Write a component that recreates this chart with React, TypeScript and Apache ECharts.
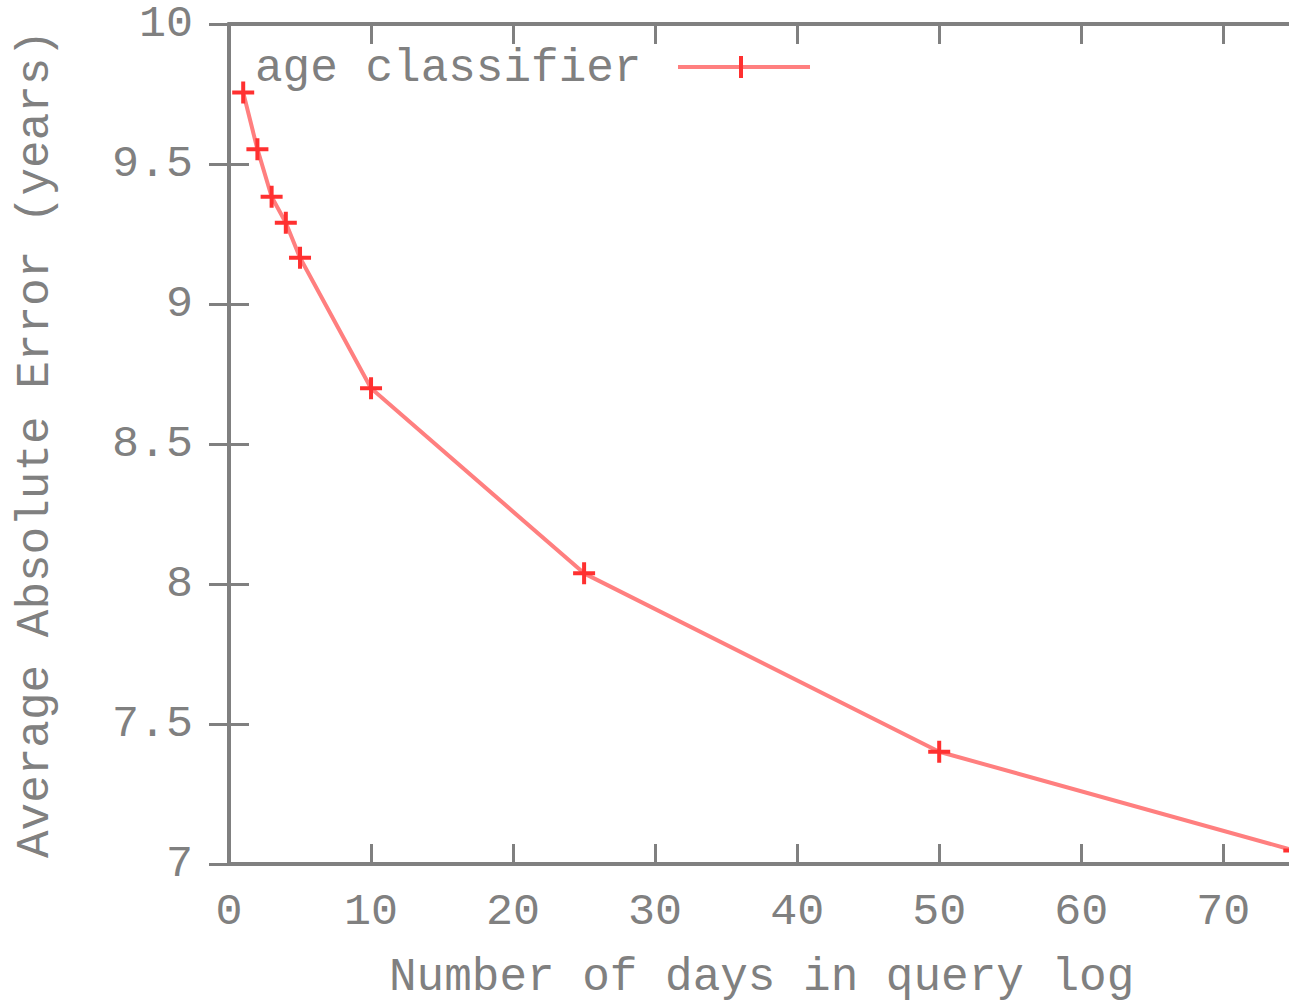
import React, { useEffect, useRef } from "react";
import * as echarts from "echarts";

const days: number[] = [1, 2, 3, 4, 5, 10, 25, 50, 75];
const errors: number[] = [9.755, 9.553, 9.383, 9.29, 9.165, 8.699, 8.038, 7.401, 7.048];
const seriesName = "age classifier";
const xTitle = "Number of days in query log";
const yTitle = "Average Absolute Error (years)";

const FONT = "'Liberation Mono', 'DejaVu Sans Mono', monospace";
const GRAY = "#808080";
const LINE = "#ff7f7f";
const MARK = "#ff3030";
const CROSS =
  "path://M-2,-11 L2,-11 L2,-2 L11,-2 L11,2 L2,2 L2,11 L-2,11 L-2,2 L-11,2 L-11,-2 L-2,-2 Z";

const W = 1310;
const H = 1003;

export default function App() {
  const ref = useRef<HTMLDivElement>(null);
  useEffect(() => {
    if (!ref.current) return;
    const chart = echarts.init(ref.current, null, { renderer: "svg", width: W, height: H });
    const data = days.map((d, i) => [d, errors[i]]);
    const axisCommon = {
      min: 0,
      max: 75,
      interval: 10,
      axisLine: { show: true, lineStyle: { color: GRAY, width: 4 } },
      axisTick: { show: true, inside: true, length: 20, lineStyle: { color: GRAY, width: 3 } },
      splitLine: { show: false },
    };
    const yCommon = {
      type: "value",
      min: 7,
      max: 10,
      interval: 0.5,
      axisLine: { show: true, lineStyle: { color: GRAY, width: 4 } },
      axisTick: { show: true, inside: true, length: 20, lineStyle: { color: GRAY, width: 3 } },
      splitLine: { show: false },
    };
    chart.setOption({
      animation: false,
      backgroundColor: "#ffffff",
      grid: {
        left: 229,
        top: 24,
        right: W - 1294.3,
        bottom: H - 864,
        containLabel: false,
        outerBoundsMode: "none",
      },
      xAxis: [
        {
          type: "value",
          position: "bottom",
          ...axisCommon,
          axisLabel: {
            show: true,
            color: GRAY,
            fontFamily: FONT,
            fontSize: 45,
            margin: 26,
            showMaxLabel: false,
          },
          name: xTitle,
          nameLocation: "middle",
          nameGap: 91,
          nameTextStyle: { color: GRAY, fontFamily: FONT, fontSize: 46 },
        },
        {
          type: "value",
          position: "top",
          ...axisCommon,
          axisLabel: { show: false },
        },
      ],
      yAxis: [
        {
          ...yCommon,
          position: "left",
          axisLabel: { show: true, color: GRAY, fontFamily: FONT, fontSize: 45, margin: 36 },
          name: yTitle,
          nameLocation: "middle",
          nameGap: 170,
          nameTextStyle: { color: GRAY, fontFamily: FONT, fontSize: 46 },
        },
        {
          ...yCommon,
          position: "right",
          axisLabel: { show: false },
        },
      ],
      series: [
        {
          name: seriesName,
          type: "line",
          xAxisIndex: 0,
          yAxisIndex: 0,
          data,
          clip: true,
          lineStyle: { color: LINE, width: 4 },
          symbol: CROSS,
          symbolSize: 22,
          itemStyle: { color: MARK },
        },
      ],
      graphic: [
        {
          type: "text",
          left: 255,
          top: 46,
          style: { text: seriesName, fill: GRAY, font: `46px ${FONT}` },
        },
        {
          type: "line",
          shape: { x1: 678, y1: 67, x2: 810, y2: 67 },
          style: { stroke: LINE, lineWidth: 4 },
        },
        {
          type: "line",
          shape: { x1: 741, y1: 56, x2: 741, y2: 78 },
          style: { stroke: MARK, lineWidth: 4 },
        },
      ],
    });
    return () => chart.dispose();
  }, []);
  return (
    <div
      style={{
        position: "fixed",
        left: 0,
        top: 0,
        width: 1289,
        height: H,
        overflow: "hidden",
        background: "#fff",
      }}
    >
      <div ref={ref} style={{ width: W, height: H }} />
    </div>
  );
}
